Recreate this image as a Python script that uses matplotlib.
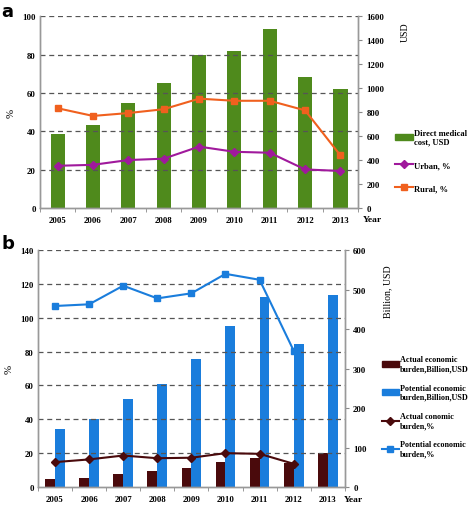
import matplotlib.pyplot as plt
import matplotlib.patches as mpatches
from matplotlib.lines import Line2D
import numpy as np

years = ['2005', '2006', '2007', '2008', '2009', '2010', '2011', '2012', '2013']

# panel a
direct_cost = [615, 690, 880, 1040, 1280, 1310, 1495, 1095, 990]
urban_pct = [22, 22.5, 25, 25.7, 32, 29.3, 28.8, 20.1, 19.3]
rural_pct = [52, 48, 49.5, 51.5, 57, 55.9, 55.9, 50.9, 27.4]

# panel b
actual_burden = [19, 24, 34, 39.5, 49, 63, 73, 61, 87]
potential_burden = [148, 171, 223, 261, 324, 407, 482, 362, 486]
actual_pct = [14.7, 16.3, 18.6, 17.0, 17.3, 20.0, 19.6, 13.7]
potential_pct = [107, 108, 119, 111.5, 114.5, 126, 122.5, 80.6]

green = '#4f8a1c'
orange = '#f0601e'
purple = '#a0199c'
darkred = '#4a0a0c'
blue = '#1a7ddc'

plt.rcParams['font.family'] = ['Liberation Serif', 'DejaVu Serif']
plt.rcParams['font.weight'] = 'bold'
fs = 6.3
lfs = 5.9

fig = plt.figure(figsize=(4.72, 5.06), dpi=100)
x = np.arange(len(years))


def style_axes(ax, ax2, ymax, ystep, rmax, rstep):
    ax.set_xlim(-0.5, len(years) - 0.5)
    ax.set_ylim(0, ymax)
    ax2.set_ylim(0, rmax)
    ax.set_yticks(np.arange(0, ymax + 1, ystep))
    ax2.set_yticks(np.arange(0, rmax + 1, rstep))
    ax.set_xticks(x)
    ax.set_xticklabels(years)
    ax.set_xticks(np.arange(-0.5, len(years)), minor=True)
    ax.tick_params(axis='x', which='major', length=0, labelsize=fs, pad=6)
    ax.tick_params(axis='x', which='minor', length=3, color='#888888', direction='out')
    ax.tick_params(axis='y', length=0, labelsize=fs, pad=3)
    ax2.tick_params(axis='y', length=3, color='#888888', labelsize=fs, pad=3)
    for a in (ax, ax2):
        a.spines['top'].set_visible(False)
        for s in ('left', 'right', 'bottom'):
            a.spines[s].set_color('#999999')
            a.spines[s].set_linewidth(1)
    for v in np.arange(ystep, ymax + 1, ystep):
        ax.axhline(v, color='#555555', linestyle=(0, (4, 3)), linewidth=0.9, zorder=0)
    ax.set_ylabel('%', fontsize=fs + 1.5, labelpad=5)


# ---- panel a ----
ax = fig.add_axes([0.0847, 0.587, 0.674, 0.379])
ax2 = ax.twinx()
ax2.bar(x, direct_cost, width=0.4, color=green, zorder=1)
ax.set_zorder(ax2.get_zorder() + 1)
ax.patch.set_visible(False)
ax.plot(x, urban_pct, color=purple, marker='D', markersize=3.6, linewidth=1.5, zorder=3)
ax.plot(x, rural_pct, color=orange, marker='s', markersize=5, linewidth=1.5, zorder=3)
style_axes(ax, ax2, 100, 20, 1600, 200)
ax2.set_ylabel('USD', fontsize=fs + 0.8)
ax2.yaxis.set_label_coords(1.135, 0.92)
ax.text(1.016, -0.06, 'Year', transform=ax.transAxes, fontsize=fs + 0.5, va='center')

handles_a = [mpatches.Patch(color=green),
             Line2D([], [], color=purple, marker='D', markersize=3.6, linewidth=1.5),
             Line2D([], [], color=orange, marker='s', markersize=5, linewidth=1.5)]
fig.legend(handles_a, ['Direct medical\ncost, USD', 'Urban, %', 'Rural, %'],
           loc='upper left', bbox_to_anchor=(0.828, 0.752), frameon=False,
           fontsize=6.1, handlelength=2.1, handletextpad=0.1,
           labelspacing=1.8, borderpad=0)

# ---- panel b ----
bx = fig.add_axes([0.0805, 0.0356, 0.650, 0.468])
bx2 = bx.twinx()
w = 0.29
bx2.bar(x - w / 2, actual_burden, width=w, color=darkred, zorder=1)
bx2.bar(x + w / 2, potential_burden, width=w, color=blue, zorder=1)
bx.set_zorder(bx2.get_zorder() + 1)
bx.patch.set_visible(False)
bx.plot(x[:len(actual_pct)], actual_pct, color=darkred, marker='D', markersize=3.6, linewidth=1.5, zorder=3)
bx.plot(x[:len(potential_pct)], potential_pct, color=blue, marker='s', markersize=5, linewidth=1.5, zorder=3)
style_axes(bx, bx2, 140, 20, 600, 100)
bx2.set_ylabel('Billion, USD', fontsize=fs + 0.8)
bx2.yaxis.set_label_coords(1.125, 0.83)
bx.text(0.997, -0.05, 'Year', transform=bx.transAxes, fontsize=fs + 0.5, va='center')

handles_b = [mpatches.Patch(color=darkred),
             mpatches.Patch(color=blue),
             Line2D([], [], color=darkred, marker='D', markersize=3.6, linewidth=1.5),
             Line2D([], [], color=blue, marker='s', markersize=5, linewidth=1.5)]
fig.legend(handles_b, ['Actual economic\nburden,Billion,USD',
                       'Potential economic\nburden,Billion,USD',
                       'Actual conomic\nburden,%',
                       'Potential economic\nburden,%'],
           loc='upper left', bbox_to_anchor=(0.8, 0.304), frameon=False,
           fontsize=lfs, handlelength=2.1, handletextpad=0.1,
           labelspacing=1.35, borderpad=0)

fig.text(0.003, 0.995, 'a', fontsize=13, fontweight='bold', family='DejaVu Sans', va='top')
fig.text(0.003, 0.535, 'b', fontsize=13, fontweight='bold', family='DejaVu Sans', va='top')

fig.savefig('out.png', dpi=100)
